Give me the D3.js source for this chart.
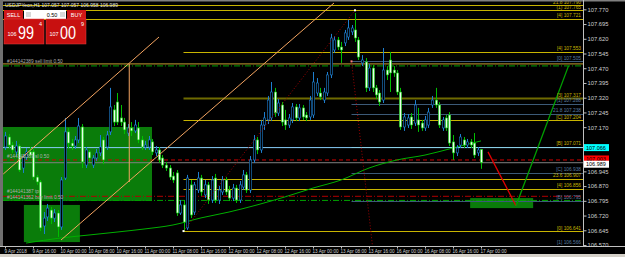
<!DOCTYPE html>
<meta charset="utf-8">
<style>
  body { margin: 0; background: #000; }
  svg text { font-family: "Liberation Sans", Arial, sans-serif; }
</style>
<body>
<svg id="chart" width="625" height="257"></svg>
<script src="https://d3js.org/d3.v7.min.js"></script>
<script>
// USDJPY H1, 9 Apr 2018 08:00 .. 17 Apr 2018 00:00
var opens = [107.069,107.120,107.079,107.044,107.074,106.962,107.018,107.044,107.044,106.916,
  106.891,106.667,106.713,106.748,106.707,106.733,106.662,106.911,107.146,107.089,
  107.074,107.105,107.171,106.977,107.044,106.977,107.013,107.039,107.105,107.069,
  107.146,107.258,107.298,107.217,107.196,107.140,107.166,107.151,107.166,107.105,
  107.069,107.069,107.095,107.039,107.054,107.013,106.977,106.962,106.921,106.937,
  106.733,106.774,106.657,106.876,106.738,106.850,106.911,106.825,106.876,106.799,
  106.911,106.799,106.840,106.901,106.850,106.809,106.860,106.799,106.865,106.927,
  106.850,107.003,107.105,107.054,107.181,107.207,107.217,107.349,107.242,107.283,
  107.207,107.181,107.207,107.273,107.217,107.268,107.232,107.222,107.232,107.344,
  107.344,107.308,107.344,107.436,107.563,107.614,107.578,107.599,107.629,107.655,
  107.665,107.614,107.497,107.502,107.370,107.471,107.370,107.344,107.308,107.461,
  107.512,107.461,107.446,107.349,107.171,107.181,107.222,107.191,107.207,107.191,
  107.166,107.181,107.283,107.308,107.283,107.166,107.217,107.232,107.095,107.039,
  107.079,107.105,107.079,107.095,107.089,107.039,107.057];
var highs = [107.146,107.135,107.095,107.100,107.084,107.033,107.064,107.069,107.059,106.927,
  106.901,106.738,106.779,106.764,106.753,106.748,106.916,107.217,107.166,107.110,
  107.125,107.217,107.186,107.069,107.054,107.028,107.059,107.130,107.120,107.151,
  107.370,107.283,107.344,107.283,107.217,107.186,107.196,107.207,107.196,107.125,
  107.100,107.125,107.110,107.074,107.069,107.028,106.993,106.977,106.942,106.952,
  106.799,106.799,106.927,106.901,106.891,106.942,106.927,106.901,106.891,106.921,
  106.932,106.871,106.921,106.916,106.871,106.881,106.876,106.896,106.952,106.942,
  107.023,107.130,107.120,107.207,107.247,107.329,107.400,107.370,107.313,107.298,
  107.258,107.237,107.293,107.288,107.288,107.283,107.247,107.329,107.451,107.420,
  107.370,107.370,107.451,107.645,107.634,107.629,107.604,107.665,107.716,107.690,
  107.751,107.629,107.537,107.522,107.492,107.487,107.385,107.359,107.573,107.481,
  107.553,107.481,107.461,107.370,107.242,107.237,107.242,107.308,107.268,107.207,
  107.227,107.268,107.329,107.370,107.298,107.222,107.232,107.247,107.130,107.079,
  107.135,107.120,107.110,107.110,107.140,107.069,107.057];
var lows = [107.054,107.064,107.039,107.023,106.942,106.937,107.003,107.013,106.901,106.876,
  106.641,106.626,106.692,106.677,106.687,106.611,106.647,106.901,107.064,107.054,
  107.059,107.089,106.962,106.962,106.993,106.962,106.998,107.023,106.982,107.054,
  107.130,107.176,107.181,107.176,107.135,107.125,107.125,107.140,107.089,107.054,
  107.054,107.054,107.028,107.023,106.988,106.962,106.947,106.901,106.886,106.718,
  106.723,106.641,106.647,106.707,106.723,106.835,106.820,106.809,106.779,106.784,
  106.784,106.779,106.825,106.825,106.794,106.794,106.784,106.784,106.850,106.835,
  106.835,106.988,107.033,107.039,107.156,107.186,107.201,107.222,107.227,107.176,
  107.156,107.166,107.191,107.201,107.201,107.207,107.201,107.207,107.217,107.329,
  107.308,107.293,107.329,107.420,107.548,107.563,107.497,107.583,107.614,107.639,
  107.604,107.512,107.481,107.349,107.354,107.349,107.313,107.278,107.293,107.410,
  107.349,107.426,107.334,107.156,107.151,107.166,107.161,107.176,107.146,107.151,
  107.151,107.166,107.268,107.268,107.166,107.151,107.151,107.074,107.003,107.023,
  107.064,107.064,107.064,107.064,107.013,107.023,106.958];
var closes = [107.125,107.079,107.054,107.074,106.952,107.018,107.044,107.028,106.916,106.891,
  106.657,106.707,106.758,106.707,106.733,106.662,106.901,107.146,107.089,107.074,
  107.105,107.176,106.993,107.054,107.013,107.013,107.039,107.069,107.003,107.130,
  107.273,107.196,107.196,107.196,107.156,107.166,107.151,107.181,107.105,107.069,
  107.079,107.105,107.044,107.054,107.003,106.977,106.962,106.916,106.901,106.733,
  106.774,106.687,106.911,106.723,106.876,106.911,106.840,106.876,106.799,106.901,
  106.799,106.850,106.901,106.840,106.809,106.860,106.799,106.876,106.927,106.850,
  107.003,107.105,107.054,107.181,107.217,107.308,107.349,107.242,107.293,107.196,
  107.181,107.217,107.273,107.217,107.268,107.222,107.217,107.308,107.400,107.395,
  107.324,107.349,107.436,107.624,107.614,107.578,107.563,107.650,107.675,107.675,
  107.624,107.527,107.512,107.370,107.471,107.370,107.334,107.298,107.461,107.436,
  107.446,107.446,107.349,107.171,107.222,107.217,107.181,107.283,107.181,107.166,
  107.207,107.247,107.308,107.283,107.181,107.207,107.166,107.089,107.039,107.064,
  107.120,107.079,107.095,107.079,107.028,107.054,106.989];

var timeLabels = ["9 Apr 2018", "9 Apr 16:00", "10 Apr 00:00", "10 Apr 08:00", "10 Apr 16:00",
  "11 Apr 00:00", "11 Apr 08:00", "11 Apr 16:00", "12 Apr 00:00", "12 Apr 08:00", "12 Apr 16:00",
  "13 Apr 00:00", "13 Apr 08:00", "13 Apr 16:00", "16 Apr 00:00", "16 Apr 08:00", "16 Apr 16:00",
  "17 Apr 00:00"];
var labelBars = timeLabels.map(function (d, i) { return i * 8; });

var priceTicks = [106.570, 106.645, 106.720, 106.795, 106.870, 106.945, 107.020, 107.095,
  107.170, 107.245, 107.320, 107.395, 107.470, 107.545, 107.620, 107.695, 107.770];

// moving average, read every 8 bars
var maBars = [6, 16, 24, 32, 40, 48, 56, 64, 72, 80, 88, 96, 104, 112, 120, 128, 136];
var maValues = [106.580, 106.606, 106.621, 106.636, 106.652, 106.672, 106.708, 106.738, 106.774,
  106.815, 106.860, 106.901, 106.962, 107.003, 107.028, 107.064, 107.100];

// wave levels: price, text, kind, first bar
var levelPrices = [107.790, 107.765, 107.721, 107.553, 107.505, 107.317, 107.288, 107.238, 107.204,
  107.071, 106.938, 106.907, 106.856, 106.795, 106.641, 106.566];
var levelTexts = ["21.8 107.790", "(1) 107.765", "[4] 107.721", "[4] 107.553", "[0] 107.505",
  "[3] 107.317", "(1) 107.288", "21.8 107.238", "[C] 107.204", "[B] 107.071", "[C] 106.938",
  "23.6 106.907", "[4] 106.856", "[B] 106.795", "[0] 106.641", "[1] 106.566"];
var levelKinds = ["y", "y", "y", "y", "b", "o", "b", "b", "y", "l", "b", "y", "y", "b", "y", "b"];
var levelStart = [-1, -1, -1, 51, 99, 51, 99, 99, 51, 99, 99, 51, 51, 99, 51, 99];

var orderPrices = [107.487, 107.003, 106.818, 106.797];
var orderTexts = ["#144142389 sell limit 0.50", "#144142389 sl 0.50", "#144141387 tp", "#144141362 buy limit 0.50"];

var W = 625, H = 257;
var svg = d3.select("#chart");
var x = d3.scaleLinear().domain([0, 165]).range([5, 582.5]);
var y = d3.scaleLinear().domain([106.565, 107.792]).range([246, 5]);

svg.append("rect").attr("width", W).attr("height", H).attr("fill", "#000");

// background rectangles
var boxes = [[-1, 42, 107.171, 106.794], [5.4, 21.4, 106.774, 106.585], [132.9, 150.9, 106.809, 106.758]];
svg.selectAll("rect.box").data(boxes).enter().append("rect").attr("class", "box")
  .attr("x", function (d) { return x(d[0]); })
  .attr("width", function (d) { return x(d[1]) - x(d[0]); })
  .attr("y", function (d) { return y(d[2]); })
  .attr("height", function (d) { return y(d[3]) - y(d[2]); })
  .attr("fill", "#0a7c0a");

var kindColor = { y: "#c8b400", o: "#6e6a00", b: "#3c5a78", l: "#9acd32" };
svg.selectAll("line.lvl").data(levelPrices).enter().append("line").attr("class", "lvl")
  .attr("x1", function (d, i) { return x(levelStart[i]); }).attr("x2", 583)
  .attr("y1", function (d) { return Math.round(y(d)) + 0.5; })
  .attr("y2", function (d) { return Math.round(y(d)) + 0.5; })
  .attr("stroke", function (d, i) { return kindColor[levelKinds[i]]; })
  .attr("stroke-width", function (d, i) { return levelKinds[i] == "o" ? 2 : 1; });

// order lines
svg.append("line").attr("x1", 3).attr("x2", 583).attr("y1", y(orderPrices[0]) - 1).attr("y2", y(orderPrices[0]) - 1)
  .attr("stroke", "#c8a030");
svg.append("line").attr("x1", 3).attr("x2", 583).attr("y1", y(orderPrices[0]) + 1).attr("y2", y(orderPrices[0]) + 1)
  .attr("stroke", "#00a000").attr("stroke-dasharray", "6,2,1,2");
svg.append("line").attr("x1", 3).attr("x2", 583).attr("y1", y(orderPrices[1])).attr("y2", y(orderPrices[1]))
  .attr("stroke", "#d00000").attr("stroke-dasharray", "4,3");
svg.append("line").attr("x1", 3).attr("x2", 583).attr("y1", y(orderPrices[2])).attr("y2", y(orderPrices[2]))
  .attr("stroke", "#b00000").attr("stroke-dasharray", "6,2,1,2");
svg.append("line").attr("x1", 3).attr("x2", 583).attr("y1", y(orderPrices[3])).attr("y2", y(orderPrices[3]))
  .attr("stroke", "#00a000").attr("stroke-dasharray", "6,2,1,2");

// cyan horizontal line and bid line
svg.append("line").attr("x1", 3).attr("x2", 583).attr("y1", y(107.066)).attr("y2", y(107.066))
  .attr("stroke", "#87cefa");
svg.append("line").attr("x1", 3).attr("x2", 583).attr("y1", y(106.989)).attr("y2", y(106.989))
  .attr("stroke", "#808080");

// moving average
svg.append("path").datum(maBars)
  .attr("d", d3.line().x(function (d) { return x(d); }).y(function (d, i) { return y(maValues[i]); }).curve(d3.curveMonotoneX))
  .attr("fill", "none").attr("stroke", "#00b000").attr("stroke-width", 1);

// candles
var bars = d3.range(closes.length);
function up(i) { return closes[i] >= opens[i]; }
var g = svg.append("g");
g.selectAll("line.wick").data(bars).enter().append("line").attr("class", "wick")
  .attr("x1", function (i) { return Math.round(x(i)) + 0.5; })
  .attr("x2", function (i) { return Math.round(x(i)) + 0.5; })
  .attr("y1", function (i) { return y(highs[i]); })
  .attr("y2", function (i) { return y(lows[i]); })
  .attr("stroke", function (i) { return up(i) ? "#1e7fd0" : "#00c000"; });
g.selectAll("rect.body").data(bars).enter().append("rect").attr("class", "body")
  .attr("x", function (i) { return Math.round(x(i)) - 0.7; })
  .attr("width", 2.4)
  .attr("y", function (i) { return y(Math.max(opens[i], closes[i])); })
  .attr("height", function (i) { return Math.max(1, Math.abs(y(opens[i]) - y(closes[i]))); })
  .attr("fill", function (i) { return up(i) ? "#000" : "#eaffea"; })
  .attr("stroke", function (i) { return up(i) ? "#1e7fd0" : "#00c000"; })
  .attr("stroke-width", 0.6);

// channel lines
svg.append("line").attr("x1", x(-0.5)).attr("y1", 174).attr("x2", x(44)).attr("y2", 37)
  .attr("stroke", "#f4a460");
svg.append("line").attr("x1", x(16)).attr("y1", 240).attr("x2", x(94)).attr("y2", 3)
  .attr("stroke", "#f4a460");
svg.append("line").attr("x1", x(35.5)).attr("y1", 64).attr("x2", x(35.5)).attr("y2", 182)
  .attr("stroke", "#f4a460");

// wave zigzag
svg.append("path").attr("d", "M" + x(51) + "," + y(106.641) + "L" + x(100) + "," + y(107.765))
  .attr("stroke", "#a00000").attr("stroke-dasharray", "1,2").attr("fill", "none");
svg.append("path").attr("d", "M" + x(99) + "," + y(107.505) + "L" + x(105) + "," + 246)
  .attr("stroke", "#a00000").attr("stroke-dasharray", "1,2").attr("fill", "none");
svg.append("rect").attr("x", x(99) - 1).attr("y", y(107.505) - 1).attr("width", 2).attr("height", 2).attr("fill", "#ff8080");
svg.append("rect").attr("x", x(100) - 1).attr("y", y(107.765) - 1).attr("width", 2).attr("height", 2).attr("fill", "#ffffff");
svg.append("rect").attr("x", x(51) - 1).attr("y", y(106.641) - 1).attr("width", 2).attr("height", 2).attr("fill", "#ffffff");

// projection lines
svg.append("line").attr("x1", x(138)).attr("y1", y(107.044)).attr("x2", x(146)).attr("y2", y(106.770))
  .attr("stroke", "#e00000").attr("stroke-width", 1.3);
svg.append("line").attr("x1", x(146)).attr("y1", y(106.770)).attr("x2", x(161)).attr("y2", y(107.482))
  .attr("stroke", "#00a000").attr("stroke-width", 1.3);

// texts on chart
svg.selectAll("text.lvl").data(levelPrices).enter().append("text").attr("class", "lvl")
  .attr("x", 581).attr("y", function (d) { return y(d) - 1.5; })
  .attr("text-anchor", "end").attr("font-size", 4.8)
  .attr("fill", function (d, i) { return levelKinds[i] == "b" ? "#5a7ca0" : "#c8b400"; })
  .text(function (d, i) { return levelTexts[i]; });
svg.selectAll("text.ord").data(orderPrices).enter().append("text").attr("class", "ord")
  .attr("x", 7).attr("y", function (d, i) { return y(d) - (i == 2 ? 3 : 1.5); })
  .attr("font-size", 4.8).attr("fill", "#b0b0b0")
  .text(function (d, i) { return orderTexts[i]; });

// frame
svg.append("rect").attr("x", 0).attr("y", 0).attr("width", W).attr("height", 1.5).attr("fill", "#808080");
svg.append("rect").attr("x", 0).attr("y", 0).attr("width", 3).attr("height", 246).attr("fill", "#707070");
svg.append("line").attr("x1", 583.5).attr("x2", 583.5).attr("y1", 0).attr("y2", 246).attr("stroke", "#c0c0c0");
svg.append("line").attr("x1", 0).attr("x2", 625).attr("y1", 246.5).attr("y2", 246.5).attr("stroke", "#c0c0c0");
svg.append("rect").attr("x", 0).attr("y", 254).attr("width", 625).attr("height", 3).attr("fill", "#d4d0c8");

// price marks on the axis
var marks = [[107.066, "#00ffff", "107.066"], [107.003, "#ff0000", "107.003"], [106.989, "#ffffff", "106.989"]];

// price axis
var ay = svg.append("g").attr("transform", "translate(583.5,0)")
  .call(d3.axisRight(y).tickValues(priceTicks.filter(function (t) {
    return marks.every(function (m) { return Math.abs(y(t) - y(m[0])) > 6; });
  })).tickFormat(d3.format(".3f")).tickSize(3));
ay.select(".domain").remove();
ay.selectAll("line").attr("stroke", "#c0c0c0");
ay.selectAll("text").attr("fill", "#d0d0d0").attr("font-size", 5.8).attr("x", 4);

marks.forEach(function (m, k) {
  var yy = y(m[0]) + (k == 2 ? 1.5 : k == 1 ? -1 : 0);
  svg.append("rect").attr("x", 584).attr("y", yy - 3.5).attr("width", 25).attr("height", 7).attr("fill", m[1]);
  svg.append("text").attr("x", 586).attr("y", yy + 2).attr("font-size", 5.5).attr("fill", "#000").text(m[2]);
});

// time axis
var ax = svg.append("g").attr("transform", "translate(0,246.5)")
  .call(d3.axisBottom(x).tickValues(labelBars).tickFormat(function (d, i) { return timeLabels[i]; }).tickSize(2));
ax.select(".domain").remove();
ax.selectAll("line").attr("stroke", "#c0c0c0");
ax.selectAll("text").attr("fill", "#d0d0d0").attr("font-size", 4.6).attr("text-anchor", "start")
  .attr("x", -1).attr("y", 3);

// title
svg.append("text").attr("x", 5).attr("y", 7).attr("font-size", 5).attr("fill", "#e0e0e0")
  .text("USDJPYecn,H1  107.057 107.057 106.958 106.989");

// one click trading panel
var p = svg.append("g");
p.append("rect").attr("x", 4).attr("y", 10).attr("width", 19).attr("height", 9).attr("fill", "#d01818");
p.append("text").attr("x", 13.5).attr("y", 16.5).attr("text-anchor", "middle").attr("font-size", 5.5).attr("fill", "#fff").text("SELL");
p.append("rect").attr("x", 24).attr("y", 10).attr("width", 42).attr("height", 9).attr("fill", "#fff");
p.append("rect").attr("x", 26).attr("y", 12).attr("width", 5).attr("height", 5).attr("fill", "#d8d8d8");
p.append("rect").attr("x", 60).attr("y", 12).attr("width", 5).attr("height", 5).attr("fill", "#d8d8d8");
p.append("text").attr("x", 52).attr("y", 16.5).attr("text-anchor", "middle").attr("font-size", 5.5).attr("fill", "#000").text("0.50");
p.append("rect").attr("x", 67).attr("y", 10).attr("width", 19).attr("height", 9).attr("fill", "#d01818");
p.append("text").attr("x", 76.5).attr("y", 16.5).attr("text-anchor", "middle").attr("font-size", 5.5).attr("fill", "#fff").text("BUY");
[[4, "106", "99", "4"], [46, "107", "00", "9"]].forEach(function (b) {
  p.append("rect").attr("x", b[0]).attr("y", 19).attr("width", 40).attr("height", 25).attr("fill", "#c81010")
    .attr("stroke", "#e04040").attr("stroke-width", 0.5);
  p.append("text").attr("x", b[0] + 3.5).attr("y", 36).attr("font-size", 5.5).attr("fill", "#fff").text(b[1]);
  p.append("text").attr("x", b[0] + 14).attr("y", 39).attr("font-size", 19).attr("fill", "#fff")
    .attr("textLength", 16).attr("lengthAdjust", "spacingAndGlyphs").text(b[2]);
  p.append("text").attr("x", b[0] + 35).attr("y", 26).attr("font-size", 5.5).attr("fill", "#fff").text(b[3]);
});
</script>
</body>
